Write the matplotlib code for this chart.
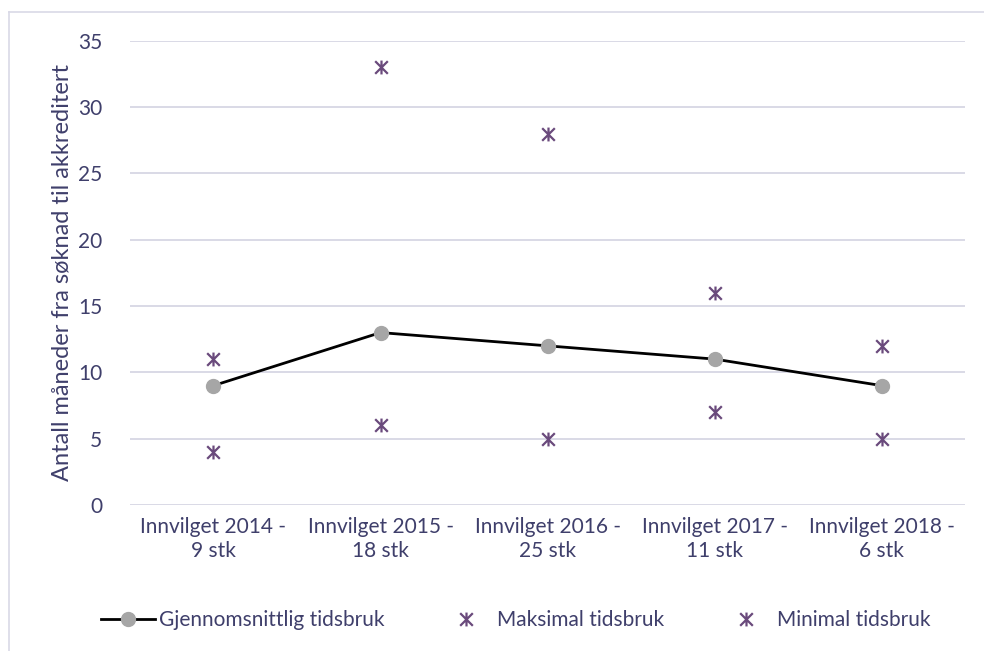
import matplotlib.pyplot as plt
from matplotlib.lines import Line2D
from matplotlib.path import Path

categories = ['Innvilget 2014 -\n9 stk', 'Innvilget 2015 -\n18 stk', 'Innvilget 2016 -\n25 stk',
              'Innvilget 2017 -\n11 stk', 'Innvilget 2018 -\n6 stk']
avg_time = [9, 13, 12, 11, 9]
max_time = [11, 33, 28, 16, 12]
min_time = [4, 6, 5, 7, 5]

txt = '#3f3f6b'
purple = '#6a4a7c'
grid = '#d9d9e6'

plt.rcParams['font.family'] = ['Lato', 'DejaVu Sans']

# excel style star: X with a vertical bar
star = Path([(-1, -1), (1, 1), (-1, 1), (1, -1), (0, -1.1), (0, 1.1)],
            [Path.MOVETO, Path.LINETO, Path.MOVETO, Path.LINETO, Path.MOVETO, Path.LINETO])

fig = plt.figure(figsize=(9.84, 6.51), dpi=100)
ax = fig.add_axes([0.132, 0.2243, 0.849, 0.713])

x = list(range(len(categories)))
ax.plot(x, avg_time, color='black', lw=2, marker='o', ms=10, mfc='#a6a6a6', mec='#a6a6a6',
        label='Gjennomsnittlig tidsbruk', zorder=3)
ax.plot(x, max_time, ls='none', marker=star, ms=10, mew=1.6, color=purple, fillstyle='none',
        label='Maksimal tidsbruk', zorder=3)
ax.plot(x, min_time, ls='none', marker=star, ms=10, mew=1.6, color=purple, fillstyle='none',
        label='Minimal tidsbruk', zorder=3)

ax.set_xlim(-0.5, len(categories) - 0.5)
ax.set_ylim(0, 35)
ax.set_yticks(range(0, 36, 5))
ax.set_xticks(x)
ax.set_xticklabels(categories)
ax.yaxis.grid(True, color=grid, lw=1.4)
ax.set_axisbelow(True)
for s in ax.spines.values():
    s.set_visible(False)
ax.tick_params(length=0, labelsize=15, labelcolor=txt)
ax.tick_params(axis='y', pad=20)
ax.tick_params(axis='x', pad=9)
ax.set_ylabel('Antall måneder fra søknad til akkreditert', fontsize=17, color=txt, labelpad=4)

ax.legend(loc='center', bbox_to_anchor=(0.462, -0.248), ncol=3, frameon=False,
          fontsize=15, labelcolor=txt, handlelength=2.6, columnspacing=2.6, handletextpad=0.2)

# chart frame (cropped at right and bottom)
fig.add_artist(Line2D([0.009, 0.009], [0, 0.9816], color=grid, lw=1.2, transform=fig.transFigure))
fig.add_artist(Line2D([0.009, 1], [0.9816, 0.9816], color=grid, lw=1.2, transform=fig.transFigure))

fig.savefig('out.png', dpi=100)
